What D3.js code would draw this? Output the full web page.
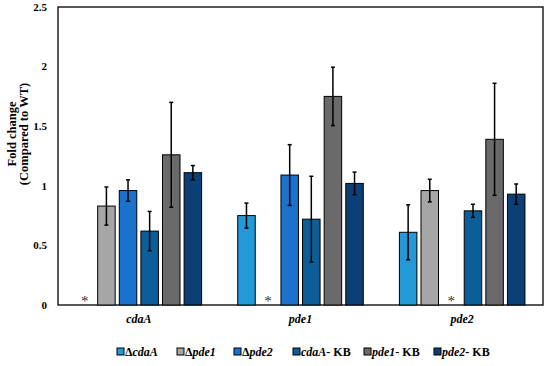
<!DOCTYPE html>
<html>
<head>
<meta charset="utf-8">
<script src="https://cdn.jsdelivr.net/npm/d3@7"></script>
<style>
  body { margin: 0; background: #fff; }
</style>
</head>
<body>
<svg id="chart" width="550" height="366"></svg>
<script>
// ── Data ──────────────────────────────────────────────────────────────────────
const genes = ["cdaA", "pde1", "pde2"];
const strains = ["dcdaA", "dpde1", "dpde2", "cdaA-KB", "pde1-KB", "pde2-KB"];
const strainColors = ["#2499d8", "#a6a6a6", "#1b72cc", "#0c5e98", "#6a6a6a", "#0c3f76"];
// null = not detected (drawn as *)
const means = {
  cdaA: [null, 0.83, 0.96, 0.62, 1.26, 1.11],
  pde1: [0.75, null, 1.09, 0.72, 1.75, 1.02],
  pde2: [0.61, 0.96, null, 0.79, 1.39, 0.93],
};
const errs = {
  cdaA: [0, 0.16, 0.09, 0.165, 0.44, 0.06],
  pde1: [0.105, 0, 0.255, 0.36, 0.245, 0.095],
  pde2: [0.23, 0.095, 0, 0.055, 0.47, 0.085],
};
const yTicks = [0, 0.5, 1, 1.5, 2, 2.5];

const FONT = "Liberation Serif";

// ── Layout ────────────────────────────────────────────────────────────────────
const svg = d3.select("#chart");
const m = { left: 58, top: 7, right: 543, bottom: 305 };

const x0 = d3.scaleBand().domain(genes).range([m.left, m.right]);
const x1 = d3.scaleBand().domain(strains)
  .range([16, x0.bandwidth() - 16]).paddingInner(0.19).paddingOuter(0.095);
const y = d3.scaleLinear().domain([0, 2.5]).range([m.bottom, m.top]);

// frame
svg.append("rect")
  .attr("x", m.left).attr("y", m.top)
  .attr("width", m.right - m.left).attr("height", m.bottom - m.top)
  .attr("fill", "none").attr("stroke", "#000").attr("stroke-width", 1.3);

// y axis labels
svg.append("g").attr("font-family", FONT).selectAll("text").data(yTicks).join("text")
  .attr("x", 47).attr("y", d => y(d)).attr("dy", "0.35em")
  .attr("text-anchor", "end").attr("font-size", 11).attr("font-weight", "bold")
  .text(d => d);

const yTitle = svg.append("text").attr("font-family", FONT)
  .attr("transform", "translate(16,134) rotate(-90)")
  .attr("text-anchor", "middle").attr("font-size", 12.5).attr("font-weight", "bold");
yTitle.append("tspan").attr("x", 0).attr("dy", 0).text("Fold change");
yTitle.append("tspan").attr("x", 0).attr("dy", 12).text("(Compared to WT)");

// bars
const rows = genes.flatMap(g => strains.map((s, i) => ({
  gene: g, strain: s, i, v: means[g][i], e: errs[g][i]
})));

const groups = svg.append("g");
groups.selectAll("rect").data(rows.filter(d => d.v != null)).join("rect")
  .attr("x", d => x0(d.gene) + x1(d.strain))
  .attr("y", d => y(d.v))
  .attr("width", x1.bandwidth())
  .attr("height", d => y(0) - y(d.v))
  .attr("fill", d => strainColors[d.i])
  .attr("stroke", "#000").attr("stroke-width", 1);

// error bars
const eb = groups.append("g").attr("stroke", "#000").attr("stroke-width", 1.5);
rows.filter(d => d.v != null && d.e > 0).forEach(d => {
  const cx = x0(d.gene) + x1(d.strain) + x1.bandwidth() / 2;
  eb.append("line").attr("x1", cx).attr("x2", cx).attr("y1", y(d.v - d.e)).attr("y2", y(d.v + d.e));
  eb.append("line").attr("x1", cx - 2).attr("x2", cx + 2).attr("y1", y(d.v + d.e)).attr("y2", y(d.v + d.e));
  eb.append("line").attr("x1", cx - 2).attr("x2", cx + 2).attr("y1", y(d.v - d.e)).attr("y2", y(d.v - d.e));
});

// stars for undetected
groups.selectAll("text.star").data(rows.filter(d => d.v == null)).join("text")
  .attr("class", "star").attr("font-family", FONT)
  .attr("x", d => x0(d.gene) + x1(d.strain) + x1.bandwidth() / 2)
  .attr("y", y(0) + 1)
  .attr("text-anchor", "middle").attr("font-size", 15).attr("fill", "#333")
  .text("*");

// category labels
svg.append("g").attr("font-family", FONT).selectAll("text").data(genes).join("text")
  .attr("x", d => x0(d) + x0.bandwidth() / 2).attr("y", 323)
  .attr("text-anchor", "middle").attr("font-size", 12)
  .attr("font-weight", "bold").attr("font-style", "italic")
  .text(d => d);

// legend
const legendX = [117, 177, 234, 293, 364, 434];
const legend = svg.append("g").attr("font-family", FONT).selectAll("g").data(strains).join("g")
  .attr("transform", (d, i) => `translate(${legendX[i]},354)`);
legend.append("rect")
  .attr("x", 0).attr("y", -6).attr("width", 7).attr("height", 7)
  .attr("fill", (d, i) => strainColors[i]).attr("stroke", "#000").attr("stroke-width", 1);
legend.append("text")
  .attr("x", 8).attr("y", 1.5).attr("font-size", 12).attr("font-weight", "bold")
  .each(function(d) {
    const t = d3.select(this);
    if (d.startsWith("d")) {
      t.append("tspan").text("Δ");
      t.append("tspan").attr("font-style", "italic").text(d.slice(1));
    } else {
      const [name] = d.split("-");
      t.append("tspan").attr("font-style", "italic").text(name);
      t.append("tspan").text("- KB");
    }
  });
</script>
</body>
</html>
